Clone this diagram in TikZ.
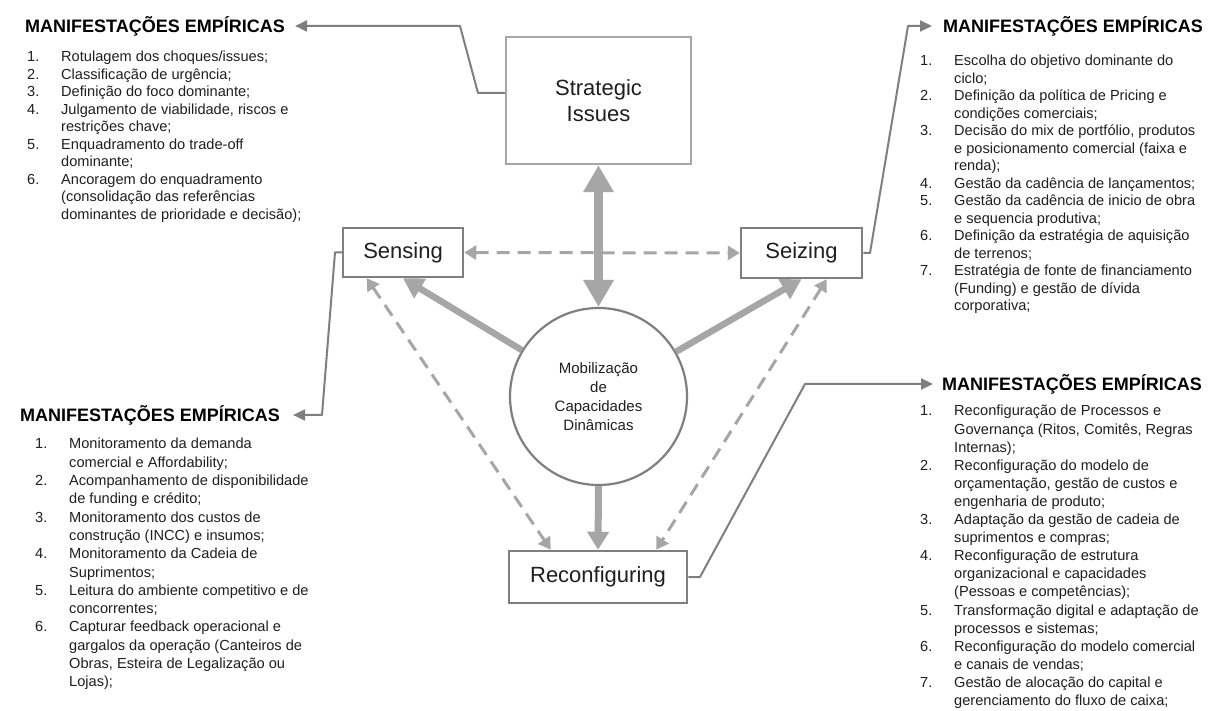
\documentclass[tikz,border=0pt]{standalone}
\usepackage{fontspec}
\setmainfont{Liberation Sans}
\usetikzlibrary{arrows.meta,calc}

\definecolor{linegray}{HTML}{A6A6A6}
\definecolor{boxgray}{HTML}{7F7F7F}
\definecolor{txt}{HTML}{1F1F1F}

% numbered list lines: \li{number}{first line}, \lc{continuation line}
\newlength\numw \setlength\numw{34pt}
\newcommand\li[2]{\hbox{\hbox to\numw{#1\hfil}#2}}
\newcommand\lc[1]{\hbox{\hskip\numw #1}}

\begin{document}
\begin{tikzpicture}[x=1pt,y=-1pt,
  box/.style={draw=boxgray,line width=2.5pt,fill=white,inner sep=0pt,
    font=\fontsize{22}{26}\selectfont,text=txt,align=center},
  hdr/.style={font=\fontsize{18}{20}\selectfont\bfseries,text=black,
    inner sep=0pt,text height=13pt,text depth=0pt,anchor=west},
  items/.style={text=txt,inner sep=0pt,anchor=base west},
  conn/.style={draw=boxgray,line width=2pt,line join=round,
    -{Triangle[width=11pt,length=12pt]}},
  dashline/.style={draw=linegray,line width=3pt,dash pattern=on 13pt off 8pt,
    {Triangle[width=14pt,length=12pt]}-{Triangle[width=14pt,length=12pt]}},
]
\fill[white] (0,0) rectangle (1211,711);
\useasboundingbox (0,0) rectangle (1211,711);

% central elements
\node[box,draw=linegray,minimum width=185pt,minimum height=127pt] (si) at (598.5,100.5) {Strategic\\Issues};
\node[box,minimum width=120pt,minimum height=49pt] (sens) at (403,252.5) {Sensing};
\node[box,minimum width=121pt,minimum height=50pt] (sei) at (801.5,253) {Seizing};
\node[box,minimum width=178pt,minimum height=52pt] (rec) at (598,577) {Reconfiguring};
\node[circle,draw=boxgray,line width=2.2pt,fill=white,minimum size=177pt,inner sep=0pt,
  align=center,text=txt,font=\fontsize{15}{19}\selectfont] (circ) at (598.5,396.5)
  {Mobilização\\de\\Capacidades\\Dinâmicas};

% headers
\node[hdr] (tlh) at (25,26) {MANIFESTAÇÕES EMPÍRICAS};
\node[hdr] (blh) at (20,415) {MANIFESTAÇÕES EMPÍRICAS};
\node[hdr] (trh) at (943,26) {MANIFESTAÇÕES EMPÍRICAS};
\node[hdr] (brh) at (942,384) {MANIFESTAÇÕES EMPÍRICAS};

% lists
\node[items,font=\fontsize{14.6}{17.5}\selectfont] (tll) at (27,62) {\vtop{
\li{1.}{Rotulagem dos choques/issues;}
\li{2.}{Classificação de urgência;}
\li{3.}{Definição do foco dominante;}
\li{4.}{Julgamento de viabilidade, riscos e}
\lc{restrições chave;}
\li{5.}{Enquadramento do trade-off}
\lc{dominante;}
\li{6.}{Ancoragem do enquadramento}
\lc{(consolidação das referências}
\lc{dominantes de prioridade e decisão);}}};

\node[items,font=\fontsize{14.6}{17.5}\selectfont] (trl) at (920,66) {\vtop{
\li{1.}{Escolha do objetivo dominante do}
\lc{ciclo;}
\li{2.}{Definição da política de Pricing e}
\lc{condições comerciais;}
\li{3.}{Decisão do mix de portfólio, produtos}
\lc{e posicionamento comercial (faixa e}
\lc{renda);}
\li{4.}{Gestão da cadência de lançamentos;}
\li{5.}{Gestão da cadência de inicio de obra}
\lc{e sequencia produtiva;}
\li{6.}{Definição da estratégia de aquisição}
\lc{de terrenos;}
\li{7.}{Estratégia de fonte de financiamento}
\lc{(Funding) e gestão de dívida}
\lc{corporativa;}}};

\node[items,font=\fontsize{14.6}{18.3}\selectfont] (bll) at (35,449) {\vtop{
\li{1.}{Monitoramento da demanda}
\lc{comercial e Affordability;}
\li{2.}{Acompanhamento de disponibilidade}
\lc{de funding e crédito;}
\li{3.}{Monitoramento dos custos de}
\lc{construção (INCC) e insumos;}
\li{4.}{Monitoramento da Cadeia de}
\lc{Suprimentos;}
\li{5.}{Leitura do ambiente competitivo e de}
\lc{concorrentes;}
\li{6.}{Capturar feedback operacional e}
\lc{gargalos da operação (Canteiros de}
\lc{Obras, Esteira de Legalização ou}
\lc{Lojas);}}};

\node[items,font=\fontsize{14.6}{18.1}\selectfont] (brl) at (920,416) {\vtop{
\li{1.}{Reconfiguração de Processos e}
\lc{Governança (Ritos, Comitês, Regras}
\lc{Internas);}
\li{2.}{Reconfiguração do modelo de}
\lc{orçamentação, gestão de custos e}
\lc{engenharia de produto;}
\li{3.}{Adaptação da gestão de cadeia de}
\lc{suprimentos e compras;}
\li{4.}{Reconfiguração de estrutura}
\lc{organizacional e capacidades}
\lc{(Pessoas e competências);}
\li{5.}{Transformação digital e adaptação de}
\lc{processos e sistemas;}
\li{6.}{Reconfiguração do modelo comercial}
\lc{e canais de vendas;}
\li{7.}{Gestão de alocação do capital e}
\lc{gerenciamento do fluxo de caixa;}}};

% dashed reciprocal links
\draw[dashline] (sens) -- (sei);
\draw[dashline] ($(sens.south west)+(25,0)$) -- ($(rec.north west)+(43,0)$);
\draw[dashline] ($(sei.south west)+(87,0)$) -- ($(rec.north east)+(-32,0)$);

% solid flows from the core
\draw[draw=linegray,line width=9.5pt,
  {Triangle[width=29pt,length=27pt]}-{Triangle[width=29pt,length=27pt]}] (si.south) -- (circ.north);
\draw[draw=linegray,line width=7pt,-{Triangle[width=21pt,length=18pt]}] (circ.south) -- (rec.north);
\draw[draw=linegray,line width=6.5pt,-{Triangle[width=22pt,length=20pt]}] (circ) -- (sens.south);
\draw[draw=linegray,line width=6.5pt,-{Triangle[width=22pt,length=20pt]}] (circ) -- (sei.south);

% connectors to the empirical manifestations
\draw[conn] ($(si.west)+(0,-7.5)$) -- (478,93) -- (460,26) -- ($(tlh.east)+(10,0)$);
\draw[conn] (sens.west) -- (335,252.5) -- (322,415) -- ($(blh.east)+(13,0)$);
\draw[conn] (sei.east) -- (870,253) -- (908,26) -- ($(trh.west)+(-11,0)$);
\draw[conn] (rec.east) -- (700,577) -- (805,384) -- ($(brh.west)+(-9,0)$);
\end{tikzpicture}
\end{document}
